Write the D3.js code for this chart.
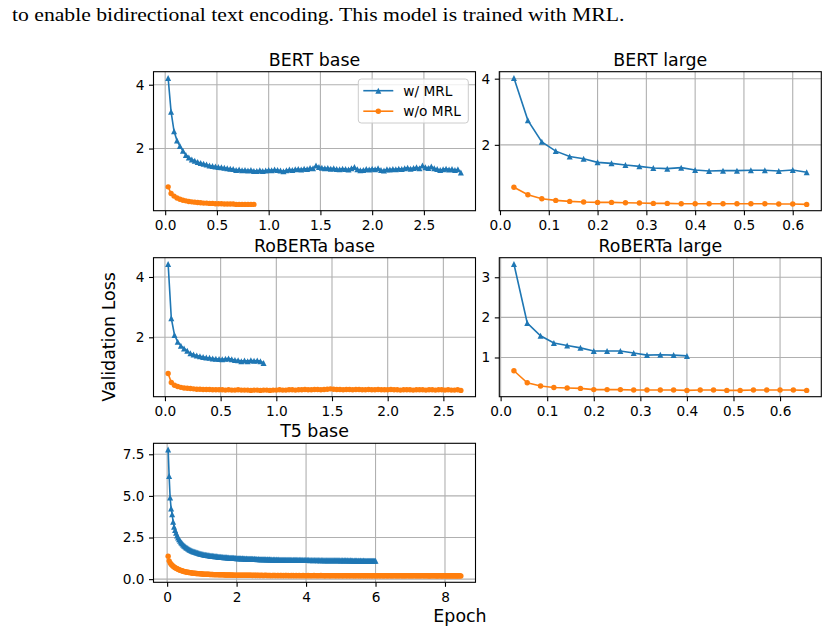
<!DOCTYPE html>
<html>
<head>
<meta charset="utf-8">
<script src="https://cdn.jsdelivr.net/npm/d3@7"></script>
<style>
body{margin:0;background:#fff;}
</style>
</head>
<body>
<div id="chart"></div>
<script>
var caption = "to enable bidirectional text encoding. This model is trained with MRL.";
var seriesNames = ["w/ MRL", "w/o MRL"];

// checkpoints are evaluated every 1/35 epoch, point i sits at epoch (i+1)/35
var evalEvery = 1 / 35;

var bertBaseMrl = [4.21, 3.15, 2.54, 2.25, 2.08, 1.93, 1.80, 1.72, 1.66, 1.62,
    1.58, 1.55, 1.52, 1.50, 1.47, 1.45, 1.44, 1.42, 1.41, 1.40,
    1.38, 1.37, 1.36, 1.33, 1.34, 1.32, 1.33, 1.31, 1.33, 1.30,
    1.30, 1.32, 1.30, 1.31, 1.33, 1.32, 1.34, 1.33, 1.31, 1.29,
    1.32, 1.34, 1.33, 1.35, 1.36, 1.34, 1.37, 1.36, 1.39, 1.38,
    1.47, 1.42, 1.40, 1.38, 1.39, 1.37, 1.38, 1.36, 1.35, 1.37,
    1.36, 1.34, 1.38, 1.42, 1.35, 1.32, 1.33, 1.36, 1.34, 1.37,
    1.35, 1.38, 1.33, 1.31, 1.35, 1.34, 1.36, 1.35, 1.37, 1.36,
    1.38, 1.40, 1.37, 1.39, 1.41, 1.38, 1.47, 1.41, 1.39, 1.44,
    1.38, 1.36, 1.33, 1.35, 1.37, 1.34, 1.36, 1.33, 1.35, 1.25];
var bertBaseNoMrl = [0.80, 0.59, 0.51, 0.45, 0.41, 0.38, 0.36, 0.34, 0.33, 0.32,
    0.31, 0.30, 0.29, 0.29, 0.28, 0.28, 0.27, 0.27, 0.27, 0.26,
    0.26, 0.26, 0.26, 0.25, 0.25, 0.25, 0.25, 0.25, 0.25, 0.25];

var bertLargeMrl = [4.02, 2.74, 2.09, 1.81, 1.65, 1.58, 1.47, 1.44, 1.39, 1.35, 1.30,
    1.28, 1.31, 1.24, 1.21, 1.22, 1.22, 1.23, 1.23, 1.21, 1.24, 1.17];
var bertLargeNoMrl = [0.72, 0.49, 0.37, 0.32, 0.29, 0.27, 0.26, 0.26, 0.25, 0.24, 0.23,
    0.23, 0.22, 0.22, 0.22, 0.22, 0.22, 0.22, 0.22, 0.21, 0.21, 0.20];

var robertaBaseMrl = [4.43, 2.63, 2.08, 1.85, 1.72, 1.63, 1.55, 1.47, 1.43, 1.40,
    1.37, 1.35, 1.33, 1.32, 1.30, 1.29, 1.28, 1.27, 1.29, 1.30,
    1.27, 1.25, 1.24, 1.21, 1.23, 1.21, 1.24, 1.22, 1.23, 1.21, 1.15];
var robertaBaseNoMrl = [0.80, 0.50, 0.41, 0.37, 0.34, 0.32, 0.31, 0.30, 0.29, 0.28,
    0.28, 0.27, 0.27, 0.27, 0.26, 0.26, 0.26, 0.26, 0.25, 0.26,
    0.25, 0.25, 0.26, 0.25, 0.25, 0.25, 0.24, 0.25, 0.25, 0.24,
    0.25, 0.25, 0.24, 0.25, 0.25, 0.26, 0.25, 0.25, 0.26, 0.26,
    0.25, 0.26, 0.26, 0.27, 0.26, 0.26, 0.27, 0.27, 0.26, 0.27,
    0.28, 0.29, 0.28, 0.27, 0.27, 0.26, 0.27, 0.27, 0.26, 0.27,
    0.27, 0.26, 0.26, 0.27, 0.26, 0.26, 0.27, 0.26, 0.26, 0.26,
    0.27, 0.26, 0.26, 0.25, 0.26, 0.26, 0.26, 0.25, 0.26, 0.26,
    0.26, 0.25, 0.26, 0.26, 0.25, 0.26, 0.26, 0.25, 0.26, 0.25,
    0.25, 0.26, 0.24];

var robertaLargeMrl = [3.33, 1.86, 1.54, 1.36, 1.30, 1.24, 1.16, 1.16, 1.16, 1.11,
    1.06, 1.07, 1.06, 1.04];
var robertaLargeNoMrl = [0.67, 0.37, 0.29, 0.25, 0.24, 0.23, 0.20, 0.20, 0.20, 0.19,
    0.19, 0.19, 0.19, 0.18, 0.19, 0.19, 0.18, 0.18, 0.19, 0.19, 0.19, 0.19, 0.18];

var t5BaseMrl = [7.78, 6.20, 4.90, 4.25, 3.90, 3.45, 3.15, 2.95, 2.78, 2.62,
    2.50, 2.40, 2.30, 2.22, 2.15, 2.08, 2.02, 1.97, 1.92, 1.88,
    1.84, 1.80, 1.77, 1.74, 1.71, 1.68, 1.66, 1.64, 1.61, 1.60,
    1.58, 1.56, 1.54, 1.53, 1.51, 1.50, 1.48, 1.47, 1.46, 1.45,
    1.44, 1.43, 1.42, 1.41, 1.40, 1.40, 1.39, 1.38, 1.37, 1.37,
    1.36, 1.35, 1.35, 1.34, 1.33, 1.33, 1.32, 1.32, 1.31, 1.31,
    1.30, 1.30, 1.29, 1.29, 1.28, 1.28, 1.28, 1.27, 1.27, 1.26,
    1.26, 1.25, 1.26, 1.25, 1.24, 1.25, 1.24, 1.24, 1.23, 1.24,
    1.23, 1.23, 1.22, 1.23, 1.22, 1.22, 1.21, 1.22, 1.21, 1.21,
    1.20, 1.21, 1.20, 1.20, 1.19, 1.20, 1.19, 1.20, 1.19, 1.18,
    1.19, 1.18, 1.19, 1.18, 1.18, 1.17, 1.18, 1.18, 1.17, 1.18,
    1.17, 1.18, 1.17, 1.17, 1.16, 1.17, 1.17, 1.16, 1.17, 1.16,
    1.17, 1.16, 1.16, 1.17, 1.16, 1.15, 1.16, 1.16, 1.17, 1.16,
    1.16, 1.15, 1.16, 1.16, 1.15, 1.16, 1.15, 1.15, 1.16, 1.15,
    1.15, 1.16, 1.15, 1.14, 1.15, 1.15, 1.14, 1.15, 1.15, 1.14,
    1.15, 1.14, 1.15, 1.14, 1.14, 1.15, 1.14, 1.14, 1.13, 1.14,
    1.14, 1.13, 1.14, 1.14, 1.13, 1.14, 1.13, 1.13, 1.14, 1.13,
    1.13, 1.14, 1.13, 1.13, 1.12, 1.13, 1.13, 1.12, 1.13, 1.13,
    1.12, 1.13, 1.12, 1.12, 1.13, 1.12, 1.12, 1.11, 1.12, 1.12,
    1.12, 1.11, 1.12, 1.11, 1.12, 1.11, 1.11, 1.12, 1.11, 1.11,
    1.11, 1.10, 1.11, 1.11, 1.10, 1.11, 1.10, 1.10, 1.11, 1.10];
var t5BaseNoMrl = [1.38, 1.10, 0.98, 0.90, 0.84, 0.78, 0.73, 0.69, 0.65, 0.62,
    0.59, 0.56, 0.54, 0.52, 0.50, 0.48, 0.46, 0.45, 0.43, 0.42,
    0.41, 0.40, 0.39, 0.38, 0.37, 0.36, 0.36, 0.35, 0.34, 0.34,
    0.33, 0.33, 0.32, 0.32, 0.31, 0.31, 0.30, 0.30, 0.30, 0.29,
    0.29, 0.29, 0.28, 0.28, 0.28, 0.28, 0.27, 0.27, 0.27, 0.27,
    0.27, 0.26, 0.26, 0.26, 0.26, 0.26, 0.26, 0.25, 0.25, 0.25,
    0.25, 0.25, 0.25, 0.25, 0.24, 0.25, 0.24, 0.24, 0.24, 0.24,
    0.24, 0.24, 0.24, 0.23, 0.24, 0.23, 0.24, 0.23, 0.23, 0.23,
    0.23, 0.23, 0.23, 0.23, 0.23, 0.22, 0.23, 0.23, 0.22, 0.23,
    0.22, 0.23, 0.22, 0.22, 0.23, 0.22, 0.22, 0.22, 0.23, 0.22,
    0.22, 0.22, 0.22, 0.22, 0.21, 0.22, 0.22, 0.22, 0.22, 0.21,
    0.22, 0.22, 0.21, 0.22, 0.22, 0.21, 0.22, 0.21, 0.22, 0.22,
    0.21, 0.22, 0.21, 0.21, 0.22, 0.21, 0.22, 0.21, 0.21, 0.22,
    0.21, 0.21, 0.22, 0.21, 0.21, 0.21, 0.22, 0.21, 0.21, 0.21,
    0.21, 0.22, 0.21, 0.21, 0.21, 0.21, 0.21, 0.22, 0.21, 0.21,
    0.21, 0.21, 0.21, 0.21, 0.22, 0.21, 0.21, 0.21, 0.20, 0.21,
    0.21, 0.21, 0.21, 0.20, 0.21, 0.21, 0.21, 0.21, 0.21, 0.20,
    0.21, 0.21, 0.20, 0.21, 0.21, 0.21, 0.20, 0.21, 0.21, 0.21,
    0.20, 0.21, 0.21, 0.20, 0.21, 0.21, 0.21, 0.20, 0.21, 0.20,
    0.21, 0.21, 0.20, 0.21, 0.20, 0.21, 0.21, 0.20, 0.21, 0.20,
    0.21, 0.20, 0.21, 0.20, 0.21, 0.20, 0.20, 0.21, 0.20, 0.21,
    0.20, 0.20, 0.21, 0.20, 0.20, 0.21, 0.20, 0.20, 0.20, 0.21,
    0.20, 0.20, 0.20, 0.21, 0.20, 0.20, 0.20, 0.20, 0.21, 0.20,
    0.20, 0.20, 0.20, 0.20, 0.21, 0.20, 0.20, 0.20, 0.20, 0.20,
    0.20, 0.21, 0.20, 0.20, 0.20, 0.20, 0.20, 0.20, 0.21, 0.20,
    0.20, 0.20, 0.20, 0.20, 0.20, 0.20, 0.21, 0.20, 0.20, 0.20,
    0.20, 0.20, 0.20, 0.19, 0.20, 0.20, 0.20, 0.20, 0.20, 0.20,
    0.20, 0.19, 0.20, 0.20, 0.20, 0.20, 0.19, 0.20, 0.20, 0.20,
    0.20, 0.19, 0.20, 0.20, 0.19, 0.20, 0.20, 0.19, 0.20, 0.20,
    0.19, 0.20, 0.19, 0.20, 0.20, 0.19];

var longXTicks = [0, 0.5, 1, 1.5, 2, 2.5];
var shortXTicks = [0, 0.1, 0.2, 0.3, 0.4, 0.5, 0.6];
var t5XTicks = [0, 2, 4, 6, 8];
var baseYTicks = [2, 4];
var robertaLargeYTicks = [1, 2, 3];
var t5YTicks = [0, 2.5, 5, 7.5];

var panels = [
    {title: "BERT base", mrl: bertBaseMrl, noMrl: bertBaseNoMrl, xTicks: longXTicks, yTicks: baseYTicks,
     xFmt: d3.format(".1f"), yFmt: d3.format("d"), row: 0, col: 0, legend: true},
    {title: "BERT large", mrl: bertLargeMrl, noMrl: bertLargeNoMrl, xTicks: shortXTicks, yTicks: baseYTicks,
     xFmt: d3.format(".1f"), yFmt: d3.format("d"), row: 0, col: 1},
    {title: "RoBERTa base", mrl: robertaBaseMrl, noMrl: robertaBaseNoMrl, xTicks: longXTicks, yTicks: baseYTicks,
     xFmt: d3.format(".1f"), yFmt: d3.format("d"), row: 1, col: 0},
    {title: "RoBERTa large", mrl: robertaLargeMrl, noMrl: robertaLargeNoMrl, xTicks: shortXTicks, yTicks: robertaLargeYTicks,
     xFmt: d3.format(".1f"), yFmt: d3.format("d"), row: 1, col: 1},
    {title: "T5 base", mrl: t5BaseMrl, noMrl: t5BaseNoMrl, xTicks: t5XTicks, yTicks: t5YTicks,
     xFmt: d3.format("d"), yFmt: d3.format(".1f"), row: 2, col: 0}
];

var blue = "#1f77b4", orange = "#ff7f0e";
var font = "DejaVu Sans, sans-serif";
var colLeft = [153.5, 499.3];
var rowTop = [71.7, 257.7, 443.3];
var panelW = 322, panelH = 139;

var svg = d3.select("#chart").append("svg")
    .attr("width", 827)
    .attr("height", 633)
    .style("background", "#fff");

// the caption in the source is a squeezed serif line, so scale it horizontally only
var cap = svg.append("text")
    .attr("font-family", "Liberation Serif, Times New Roman, serif")
    .attr("font-size", 19)
    .text(caption);
var capLen = cap.node().getComputedTextLength();
cap.attr("transform", "translate(12,21) scale(" + (613 / capLen) + ",1)");

function toPoints(values){
    return values.map(function(v, i){ return {x: (i + 1) * evalEvery, y: v}; });
}

function padded(ext){
    var p = (ext[1] - ext[0]) * 0.05;
    return [ext[0] - p, ext[1] + p];
}

function triangle(s){
    return "M0," + (-s) + "L" + s + "," + s + "L" + (-s) + "," + s + "Z";
}

function styleAxis(ax){
    ax.select(".domain").remove();
    ax.selectAll(".tick line").attr("stroke", "#000").attr("stroke-width", 1.1);
    ax.selectAll(".tick text")
      .attr("font-family", font)
      .attr("font-size", 13.7)
      .attr("fill", "#000");
}

function drawSeries(g, pts, x, y, color, isTri){
    var line = d3.line().x(function(d){ return x(d.x); }).y(function(d){ return y(d.y); });
    g.append("path")
     .datum(pts)
     .attr("d", line)
     .attr("fill", "none")
     .attr("stroke", color)
     .attr("stroke-width", 1.6);
    if (isTri){
        g.append("g").selectAll("path")
         .data(pts)
         .join("path")
         .attr("d", triangle(3))
         .attr("transform", function(d){ return "translate(" + x(d.x) + "," + y(d.y) + ")"; })
         .attr("fill", color);
    } else {
        g.append("g").selectAll("circle")
         .data(pts)
         .join("circle")
         .attr("cx", function(d){ return x(d.x); })
         .attr("cy", function(d){ return y(d.y); })
         .attr("r", 2.7)
         .attr("fill", color);
    }
}

function drawPanel(p){
    var left = colLeft[p.col], top = rowTop[p.row];
    var mrl = toPoints(p.mrl), noMrl = toPoints(p.noMrl);
    var all = mrl.concat(noMrl);

    var x = d3.scaleLinear()
              .domain(padded(d3.extent(all, function(d){ return d.x; })))
              .range([0, panelW]);
    var y = d3.scaleLinear()
              .domain(padded(d3.extent(all, function(d){ return d.y; })))
              .range([panelH, 0]);

    var g = svg.append("g").attr("transform", "translate(" + left + "," + top + ")");

    g.append("g").selectAll("line")
     .data(p.xTicks)
     .join("line")
     .attr("x1", function(d){ return x(d); })
     .attr("x2", function(d){ return x(d); })
     .attr("y1", 0)
     .attr("y2", panelH)
     .attr("stroke", "#b0b0b0")
     .attr("stroke-width", 1.1);
    g.append("g").selectAll("line")
     .data(p.yTicks)
     .join("line")
     .attr("x1", 0)
     .attr("x2", panelW)
     .attr("y1", function(d){ return y(d); })
     .attr("y2", function(d){ return y(d); })
     .attr("stroke", "#b0b0b0")
     .attr("stroke-width", 1.1);

    var xAx = g.append("g")
       .attr("transform", "translate(0," + panelH + ")")
       .call(d3.axisBottom(x).tickValues(p.xTicks).tickFormat(p.xFmt).tickSize(4.5).tickPadding(5));
    styleAxis(xAx);
    var yAx = g.append("g")
       .call(d3.axisLeft(y).tickValues(p.yTicks).tickFormat(p.yFmt).tickSize(4.5).tickPadding(4.5));
    styleAxis(yAx);

    drawSeries(g, mrl, x, y, blue, true);
    drawSeries(g, noMrl, x, y, orange, false);

    g.append("rect")
     .attr("width", panelW)
     .attr("height", panelH)
     .attr("fill", "none")
     .attr("stroke", "#000")
     .attr("stroke-width", 1.1);

    g.append("text")
     .attr("x", panelW / 2)
     .attr("y", -6)
     .attr("text-anchor", "middle")
     .attr("font-family", font)
     .attr("font-size", 17.4)
     .text(p.title);

    if (p.legend){
        var lg = g.append("g").attr("transform", "translate(" + (panelW - 117.2) + ",7.3)");
        lg.append("rect")
          .attr("width", 110)
          .attr("height", 44)
          .attr("rx", 3)
          .attr("fill", "#fff")
          .attr("fill-opacity", 0.8)
          .attr("stroke", "#cccccc")
          .attr("stroke-width", 1);
        seriesNames.forEach(function(name, i){
            var cy = 11.7 + i * 20.5;
            var color = i == 0 ? blue : orange;
            lg.append("line")
              .attr("x1", 5).attr("x2", 35)
              .attr("y1", cy).attr("y2", cy)
              .attr("stroke", color)
              .attr("stroke-width", 1.6);
            if (i == 0){
                lg.append("path").attr("d", triangle(3))
                  .attr("transform", "translate(20," + cy + ")")
                  .attr("fill", color);
            } else {
                lg.append("circle").attr("cx", 20).attr("cy", cy).attr("r", 2.7).attr("fill", color);
            }
            lg.append("text")
              .attr("x", 45)
              .attr("y", cy + 5)
              .attr("font-family", font)
              .attr("font-size", 13.7)
              .text(name);
        });
    }
}

panels.forEach(drawPanel);

svg.append("text")
   .attr("transform", "translate(115,337) rotate(-90)")
   .attr("text-anchor", "middle")
   .attr("font-family", font)
   .attr("font-size", 17.4)
   .text("Validation Loss");

svg.append("text")
   .attr("x", 460)
   .attr("y", 622)
   .attr("text-anchor", "middle")
   .attr("font-family", font)
   .attr("font-size", 17.4)
   .text("Epoch");
</script>
</body>
</html>
